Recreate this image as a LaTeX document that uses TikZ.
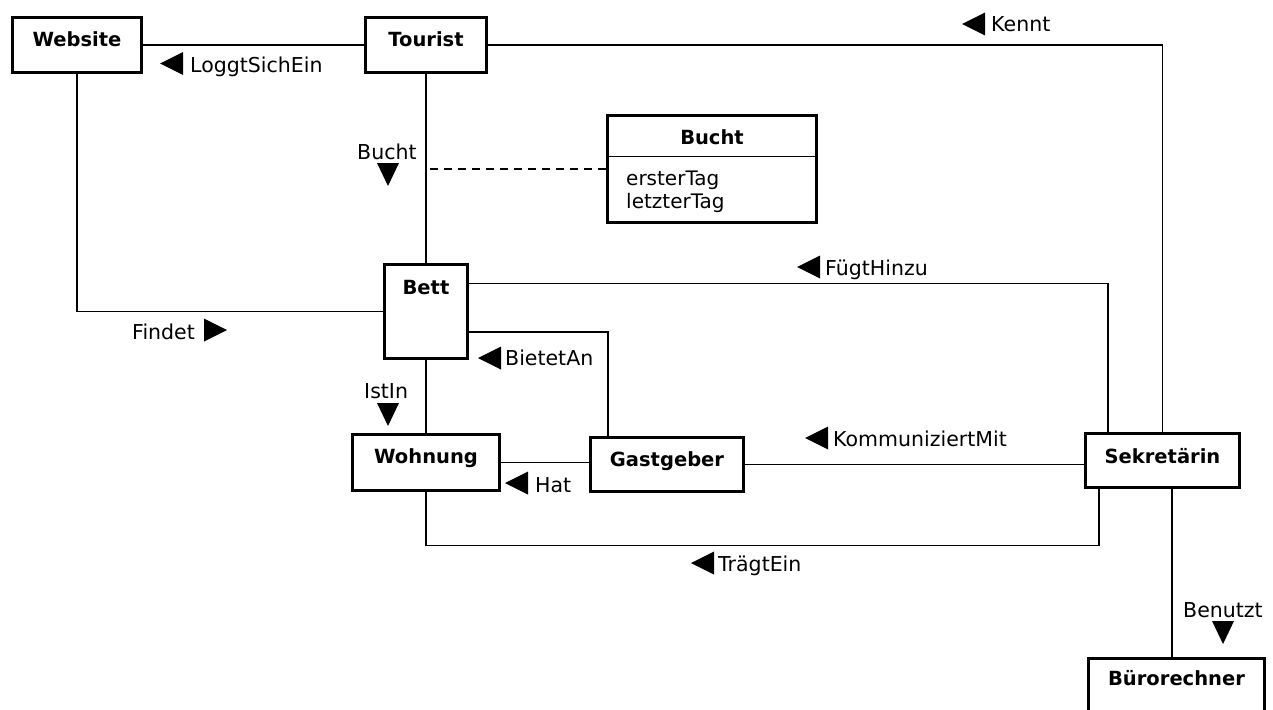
\documentclass[tikz,border=0pt]{standalone}
\usepackage{fontspec}
\setmainfont{DejaVu Sans}
\begin{document}
\begin{tikzpicture}[x=1pt,y=-1pt,
  box/.style={draw, line width=2.6pt, inner sep=0pt, fill=white},
  conn/.style={line width=1.3pt},
  btxt/.style={anchor=base, inner sep=0pt, font=\fontsize{19.5}{24}\selectfont\bfseries},
  atxt/.style={anchor=base west, inner sep=0pt, font=\fontsize{20}{24}\selectfont},
  lbl/.style={anchor=base west, inner sep=0pt, font=\fontsize{20.5}{24}\selectfont},
  triL/.pic={\fill (0,0) -- (23,-11.5) -- (23,11.5) -- cycle;},
  triR/.pic={\fill (0,0) -- (-23,-11.5) -- (-23,11.5) -- cycle;},
  triD/.pic={\fill (-11,-23) -- (11,-23) -- (0,0) -- cycle;}
]
\clip (0,0) rectangle (1273,709);
\fill[white] (0,0) rectangle (1273,709);

% connectors first (boxes drawn on top)
\coordinate (webC) at (77,45);
\coordinate (tourC) at (426,45);

% boxes
\node[box, minimum width=129pt, minimum height=55pt] (web) at (77,45) {};
\node[box, minimum width=121pt, minimum height=55pt] (tour) at (426,45) {};
\node[box, minimum width=209pt, minimum height=107pt] (bucht) at (712,169) {};
\node[box, minimum width=83pt, minimum height=94pt] (bett) at (426,311.5) {};
\node[box, minimum width=147pt, minimum height=56pt] (wohn) at (426,462.5) {};
\node[box, minimum width=153pt, minimum height=54pt] (gast) at (667,464.5) {};
\node[box, minimum width=154pt, minimum height=54pt] (sek) at (1162.5,460.5) {};
\node[box, minimum width=176pt, minimum height=60pt] (buero) at (1176.5,688.3) {};

% Bucht class divider
\draw[conn] ([yshift=-42pt]bucht.north west) -- ([yshift=-42pt]bucht.north east);

% box texts
\node[btxt] (tweb) at (77,47) {Website};
\node[btxt] (ttour) at (426,47) {Tourist};
\node[btxt] (tbucht) at (712,144) {Bucht};
\node[atxt] (tattr1) at (626,185) {ersterTag};
\node[atxt] (tattr2) at (626,208) {letzterTag};
\node[btxt] (tbett) at (426,294) {Bett};
\node[btxt] (twohn) at (426,463) {Wohnung};
\node[btxt] (tgast) at (667,466) {Gastgeber};
\node[btxt] (tsek) at (1162.5,463) {Sekretärin};
\node[btxt] (tbuero) at (1176.5,685) {Bürorechner};

% helper coordinates
\path (tour.south |- bucht.west) coordinate (d0);
\coordinate (sf) at ([xshift=-54.5pt]sek.north);
\coordinate (gb) at ([xshift=-59pt]gast.north);
\coordinate (st) at ([xshift=-63.5pt]sek.south);
\path (wohn.south) ++(0,54) coordinate (tc);
\coordinate (bs) at ([xshift=9.5pt]sek.south);

% connectors
\draw[conn] (web.east) -- (tour.west);
\draw[conn] (tour.east) -| (sek.north);
\draw[conn] (web.south) |- (bett.west);
\draw[conn] (tour.south) -- (bett.north);
\draw[conn, dash pattern=on 8pt off 6pt] ([xshift=4pt]d0) -- (bucht.west);
\draw[conn] ([yshift=-20pt]bett.north east) -| (sf);
\draw[conn] ([yshift=-20.5pt]bett.east) -| (gb);
\draw[conn] (bett.south) -- (wohn.north);
\draw[conn] (wohn.east) -- (wohn.east -| gast.west);
\draw[conn] (gast.east) -- (gast.east -| sek.west);
\draw[conn] (wohn.south) -- (tc) -| (st);
\draw[conn] (bs) -- (bs |- buero.north);

% labels
\node[lbl] (lLog) at (190,72) {LoggtSichEin};
\pic at (160,63.5) {triL};
\node[lbl] (lKennt) at (991,32) {Kennt};
\pic at (962,24) {triL};
\node[lbl] (lBucht) at (357,159) {Bucht};
\pic at (388,186) {triD};
\node[lbl] (lFuegt) at (825,275) {FügtHinzu};
\pic at (797,267) {triL};
\node[lbl] (lFindet) at (132,339) {Findet};
\pic at (227,330) {triR};
\node[lbl] (lBietet) at (505,365) {BietetAn};
\pic at (478,358) {triL};
\node[lbl] (lIstIn) at (364,398) {IstIn};
\pic at (388,426) {triD};
\node[lbl] (lHat) at (535,492) {Hat};
\pic at (505,483) {triL};
\node[lbl] (lKomm) at (833,446) {KommuniziertMit};
\pic at (805,438) {triL};
\node[lbl] (lTraegt) at (718,571) {TrägtEin};
\pic at (691,563) {triL};
\node[lbl] (lBenutzt) at (1183,617) {Benutzt};
\pic at (1223,644) {triD};
\end{tikzpicture}
\end{document}
